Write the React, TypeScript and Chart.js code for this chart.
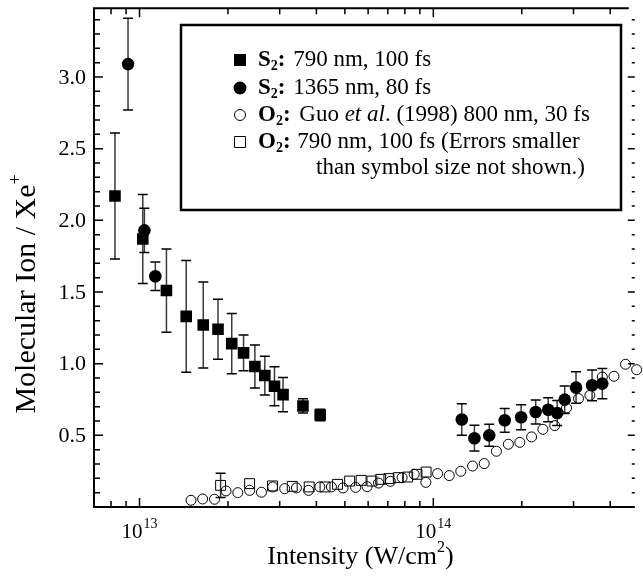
import React, { useEffect, useRef } from 'react';
import { Chart, registerables } from 'chart.js';

Chart.register(...registerables);

// ---- data ----
const s2_790_x = [8.25e12, 1.026e13, 1.235e13, 1.442e13, 1.648e13, 1.85e13, 2.06e13, 2.26e13, 2.47e13, 2.67e13, 2.88e13, 3.08e13, 3.6e13, 4.12e13];
const s2_790_y = [2.17, 1.87, 1.51, 1.33, 1.27, 1.24, 1.14, 1.075, 0.98, 0.917, 0.842, 0.784, 0.705, 0.642];
const s2_790_err = [0.44, 0.31, 0.29, 0.39, 0.30, 0.21, 0.21, 0.125, 0.15, 0.135, 0.136, 0.12, 0.05, 0.04];

const s2_1365_x = [9.14e12, 1.039e13, 1.132e13, 1.25e14, 1.38e14, 1.55e14, 1.75e14, 1.99e14, 2.23e14, 2.46e14, 2.64e14, 2.8e14, 3.06e14, 3.47e14, 3.76e14];
const s2_1365_y = [3.09, 1.93, 1.61, 0.61, 0.48, 0.5, 0.605, 0.626, 0.663, 0.679, 0.656, 0.749, 0.833, 0.849, 0.861];
const s2_1365_err = [0.32, 0.155, 0.1, 0.11, 0.09, 0.077, 0.083, 0.087, 0.084, 0.084, 0.087, 0.096, 0.11, 0.107, 0.106];

const o2_guo_x = [1.497e13, 1.64e13, 1.8e13, 1.97e13, 2.16e13, 2.37e13, 2.6e13, 2.84e13, 3.12e13, 3.42e13, 3.76e13, 4.11e13, 4.5e13, 4.93e13, 5.44e13, 5.95e13, 6.51e13, 7.14e13, 7.83e13, 8.61e13, 9.43e13, 1.034e14, 1.133e14, 1.24e14, 1.36e14, 1.49e14, 1.64e14, 1.8e14, 1.97e14, 2.16e14, 2.36e14, 2.59e14, 2.84e14, 3.12e14, 3.41e14, 3.76e14, 4.12e14, 4.51e14, 4.92e14];
const o2_guo_y = [0.047, 0.056, 0.054, 0.112, 0.1, 0.116, 0.103, 0.14, 0.128, 0.133, 0.116, 0.14, 0.14, 0.133, 0.137, 0.142, 0.167, 0.179, 0.205, 0.228, 0.172, 0.233, 0.219, 0.249, 0.286, 0.303, 0.389, 0.438, 0.451, 0.489, 0.542, 0.568, 0.691, 0.756, 0.779, 0.907, 0.912, 0.996, 0.958];

const o2_790_x = [1.888e13, 2.37e13, 2.835e13, 3.31e13, 3.78e13, 4.28e13, 4.72e13, 5.19e13, 5.68e13, 6.18e13, 6.62e13, 7.06e13, 7.6e13, 8.18e13, 8.8e13, 9.45e13];
const o2_790_y = [0.151, 0.163, 0.147, 0.144, 0.14, 0.14, 0.158, 0.181, 0.186, 0.181, 0.193, 0.198, 0.205, 0.209, 0.228, 0.244];
const o2_790_err = [0.085, 0, 0, 0, 0, 0, 0, 0, 0, 0, 0, 0, 0, 0, 0, 0];

const X_MIN = 7e12;
const X_MAX = 4.85e14;
const Y_MIN = 0;
const Y_MAX = 3.48;
const xMajorExps = [13, 14];
const yTickValues = [0.5, 1.0, 1.5, 2.0, 2.5, 3.0];

const SERIF = '"Liberation Serif", "Times New Roman", Times, serif';

type Seg = { t: string; f: string; dy?: number; dx?: number };
function drawRich(ctx: CanvasRenderingContext2D, segs: Seg[], x: number, y: number) {
  let cx = x;
  for (const s of segs) {
    cx += s.dx || 0;
    ctx.font = s.f;
    ctx.fillText(s.t, cx, y + (s.dy || 0));
    cx += ctx.measureText(s.t).width;
  }
  return cx;
}
function richWidth(ctx: CanvasRenderingContext2D, segs: Seg[]) {
  let w = 0;
  for (const s of segs) {
    ctx.font = s.f;
    w += (s.dx || 0) + ctx.measureText(s.t).width;
  }
  return w;
}

function drawSymbol(ctx: CanvasRenderingContext2D, kind: string, x: number, y: number, s: number) {
  ctx.save();
  ctx.lineWidth = 1;
  ctx.strokeStyle = '#000';
  ctx.fillStyle = '#000';
  ctx.beginPath();
  if (kind === 'fsq' || kind === 'osq') ctx.rect(x - s / 2, y - s / 2, s, s);
  else ctx.arc(x, y, s / 2, 0, Math.PI * 2);
  if (kind === 'fsq' || kind === 'fci') ctx.fill();
  else ctx.stroke();
  ctx.restore();
}

const figurePlugin = {
  id: 'figure',
  beforeDatasetsDraw(chart: any) {
    const { ctx, scales } = chart;
    const xs = scales.x, ys = scales.y;
    ctx.save();
    chart.data.datasets.forEach((ds: any) => {
      const errs: number[] | undefined = ds.errors;
      if (!errs) return;
      ds.data.forEach((p: any, j: number) => {
        const e = errs[j];
        if (!e) return;
        const px = xs.getPixelForValue(p.x);
        const top = ys.getPixelForValue(p.y + e);
        const bot = ys.getPixelForValue(p.y - e);
        ctx.strokeStyle = '#3a3a3a';
        ctx.lineWidth = 1.5;
        ctx.beginPath();
        ctx.moveTo(px, top);
        ctx.lineTo(px, bot);
        ctx.stroke();
        ctx.strokeStyle = '#000';
        ctx.beginPath();
        ctx.moveTo(px - 5, top);
        ctx.lineTo(px + 5, top);
        ctx.moveTo(px - 5, bot);
        ctx.lineTo(px + 5, bot);
        ctx.stroke();
      });
    });
    ctx.restore();
  },
  afterDraw(chart: any) {
    const { ctx, chartArea: a, scales } = chart;
    const xs = scales.x, ys = scales.y;
    ctx.save();
    ctx.strokeStyle = '#000';
    ctx.fillStyle = '#000';

    // frame
    ctx.lineWidth = 2;
    ctx.beginPath();
    ctx.moveTo(a.right - 6, a.top);
    ctx.lineTo(a.left, a.top);
    ctx.lineTo(a.left, a.bottom);
    ctx.lineTo(a.right, a.bottom);
    ctx.stroke();

    // x ticks (bottom and top, inward)
    ctx.lineWidth = 1.5;
    ctx.beginPath();
    for (let d = 12; d <= 14; d++) {
      for (let k = 1; k <= 9; k++) {
        const v = k * Math.pow(10, d);
        if (v < X_MIN * 0.999 || v > X_MAX) continue;
        const px = xs.getPixelForValue(v);
        if (px <= a.left + 1) continue;
        const len = k === 1 ? 9 : 6;
        ctx.moveTo(px, a.bottom);
        ctx.lineTo(px, a.bottom - len);
        ctx.moveTo(px, a.top);
        ctx.lineTo(px, a.top + len);
      }
    }
    // y ticks (left and right, inward)
    for (let i = 1; i * 0.1 < Y_MAX; i++) {
      const v = i * 0.1;
      const py = ys.getPixelForValue(v);
      const major = i % 5 === 0;
      ctx.moveTo(a.left, py);
      ctx.lineTo(a.left + (major ? 9 : 6), py);
      ctx.moveTo(a.right, py);
      ctx.lineTo(a.right - (major ? 7 : 3), py);
    }
    ctx.stroke();

    // y tick labels
    ctx.textAlign = 'right';
    ctx.textBaseline = 'middle';
    ctx.font = `22px ${SERIF}`;
    yTickValues.forEach((v) => {
      ctx.fillText(v.toFixed(1), a.left - 8, ys.getPixelForValue(v) + 1);
    });

    // x tick labels 10^n
    ctx.textBaseline = 'alphabetic';
    ctx.textAlign = 'left';
    xMajorExps.forEach((e) => {
      const px = xs.getPixelForValue(Math.pow(10, e));
      const segs: Seg[] = [
        { t: '10', f: `21px ${SERIF}` },
        { t: String(e), f: `14px ${SERIF}`, dy: -10, dx: 1 },
      ];
      const w = richWidth(ctx, segs);
      drawRich(ctx, segs, px - w / 2, a.bottom + 31);
    });

    // x title
    const xt: Seg[] = [
      { t: 'Intensity (W/cm', f: `26px ${SERIF}` },
      { t: '2', f: `16px ${SERIF}`, dy: -12 },
      { t: ')', f: `26px ${SERIF}` },
    ];
    const xw = richWidth(ctx, xt);
    drawRich(ctx, xt, (a.left + a.right) / 2 - xw / 2 - 4, 564);

    // y title
    ctx.save();
    ctx.translate(35, 294);
    ctx.rotate(-Math.PI / 2);
    const yt: Seg[] = [
      { t: 'Molecular Ion / Xe', f: `30px ${SERIF}` },
      { t: '+', f: `18px ${SERIF}`, dy: -14 },
    ];
    const yw = richWidth(ctx, yt);
    drawRich(ctx, yt, -yw / 2, 0);
    ctx.restore();

    // legend box
    const bx = 181, by = 25, bw = 440, bh = 185;
    ctx.lineWidth = 2.5;
    ctx.strokeRect(bx, by, bw, bh);

    const F = `23px ${SERIF}`;
    const FB = `bold 23px ${SERIF}`;
    const FS = `bold 14px ${SERIF}`;
    const FI = `italic 23px ${SERIF}`;
    const symX = 240;
    const tx = 258;
    const rows: { kind: string; size: number; segs: Seg[] }[] = [
      { kind: 'fsq', size: 12, segs: [{ t: 'S', f: FB }, { t: '2', f: FS, dy: 6 }, { t: ':', f: FB }, { t: ' 790 nm, 100 fs', f: F, dx: 2 }] },
      { kind: 'fci', size: 13, segs: [{ t: 'S', f: FB }, { t: '2', f: FS, dy: 6 }, { t: ':', f: FB }, { t: ' 1365 nm, 80 fs', f: F, dx: 2 }] },
      { kind: 'oci', size: 11, segs: [{ t: 'O', f: FB }, { t: '2', f: FS, dy: 6 }, { t: ':', f: FB }, { t: ' Guo ', f: F, dx: 3 }, { t: 'et al', f: FI }, { t: '. (1998) 800 nm, 30 fs', f: F }] },
      { kind: 'osq', size: 11, segs: [{ t: 'O', f: FB }, { t: '2', f: FS, dy: 6 }, { t: ':', f: FB }, { t: ' 790 nm, 100 fs (Errors smaller', f: F, dx: 1 }] },
    ];
    const rowY = [60, 88, 115, 142];
    ctx.textBaseline = 'middle';
    rows.forEach((r, i) => {
      drawSymbol(ctx, r.kind, symX, rowY[i], r.size);
      drawRich(ctx, r.segs, tx, rowY[i]);
    });
    ctx.font = F;
    ctx.fillText('than symbol size not shown.)', 316, 168);

    ctx.restore();
  },
};

function pts(xs: number[], ys: number[]) {
  return xs.map((x, i) => ({ x, y: ys[i] }));
}

export default function App() {
  const ref = useRef<HTMLCanvasElement>(null);
  useEffect(() => {
    if (!ref.current) return;
    const chart = new Chart(ref.current, {
      type: 'scatter',
      data: {
        datasets: [
          {
            label: 'O2 Guo',
            data: pts(o2_guo_x, o2_guo_y),
            pointStyle: 'circle',
            pointRadius: 5,
            borderWidth: 1,
            borderColor: '#000',
            backgroundColor: 'rgba(0,0,0,0)',
            clip: false,
          } as any,
          {
            label: 'O2 790',
            data: pts(o2_790_x, o2_790_y),
            errors: o2_790_err,
            pointStyle: 'rect',
            pointRadius: 7,
            borderWidth: 1,
            borderColor: '#000',
            backgroundColor: 'rgba(0,0,0,0)',
          } as any,
          {
            label: 'S2 790',
            data: pts(s2_790_x, s2_790_y),
            errors: s2_790_err,
            pointStyle: 'rect',
            pointRadius: 8.2,
            borderWidth: 0,
            backgroundColor: '#000',
          } as any,
          {
            label: 'S2 1365',
            data: pts(s2_1365_x, s2_1365_y),
            errors: s2_1365_err,
            pointStyle: 'circle',
            pointRadius: 6.3,
            borderWidth: 0,
            backgroundColor: '#000',
          } as any,
        ],
      },
      options: {
        animation: false,
        responsive: false,
        maintainAspectRatio: false,
        layout: { padding: { top: 8, right: 0, left: 0, bottom: 0 } },
        plugins: { legend: { display: false }, tooltip: { enabled: false } },
        scales: {
          x: {
            type: 'logarithmic',
            min: X_MIN,
            max: X_MAX,
            grid: { display: false, drawTicks: false },
            border: { display: false },
            ticks: { display: false, padding: 0 },
            afterFit: (s: any) => { s.height = 73; },
          },
          y: {
            type: 'linear',
            min: Y_MIN,
            max: Y_MAX,
            grid: { display: false, drawTicks: false },
            border: { display: false },
            ticks: { display: false, padding: 0, stepSize: 0.5 },
            afterFit: (s: any) => { s.width = 94; },
          },
        },
      } as any,
      plugins: [figurePlugin],
    });
    return () => chart.destroy();
  }, []);
  return (
    <div style={{ position: 'absolute', left: 0, top: 0, width: 643, height: 580, background: '#fff' }}>
      <canvas ref={ref} width={643} height={580} style={{ width: 643, height: 580, display: 'block' }} />
    </div>
  );
}
